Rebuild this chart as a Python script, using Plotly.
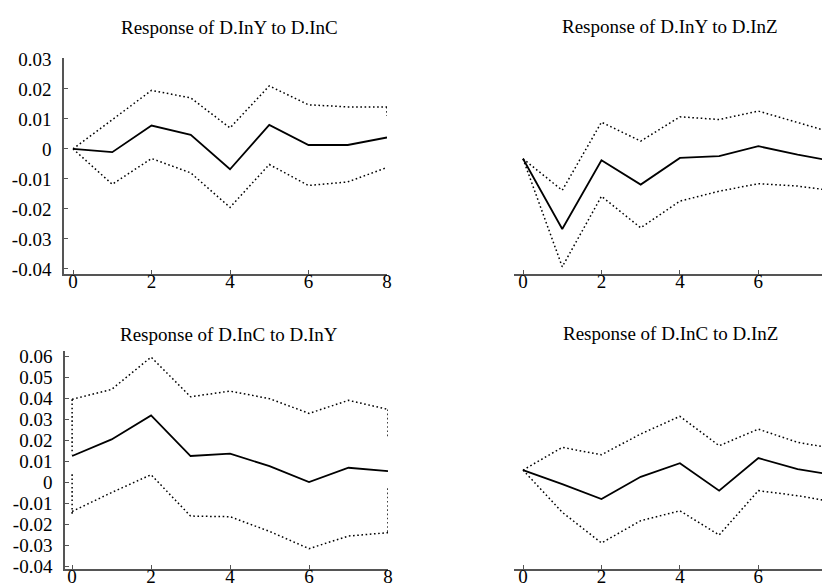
import plotly.graph_objects as go

W, H = 830, 585

steps = [0, 1, 2, 3, 4, 5, 6, 7, 8]

# Response of D.InY to D.InC
y_c_irf = [0.0, -0.0011, 0.0078, 0.0047, -0.0068, 0.0080, 0.0013, 0.0013, 0.0038]
y_c_hi = [0.0, 0.0097, 0.0195, 0.0170, 0.0070, 0.0210, 0.0147, 0.0140, 0.0140]
y_c_lo = [0.0, -0.0118, -0.0032, -0.0080, -0.0195, -0.0052, -0.0122, -0.0110, -0.0062]
y_c_edges = [(8, 0.0140, 0.0110)]

# Response of D.InY to D.InZ
y_z_irf = [-0.0033, -0.0267, -0.0038, -0.0119, -0.0030, -0.0024, 0.0009, -0.0019, -0.0043]
y_z_hi = [-0.0033, -0.0138, 0.0089, 0.0026, 0.0107, 0.0098, 0.0126, 0.0087, 0.0050]
y_z_lo = [-0.0033, -0.0393, -0.0158, -0.0263, -0.0174, -0.0141, -0.0116, -0.0124, -0.0141]
y_z_edges = [(8, 0.0050, -0.0030)]

# Response of D.InC to D.InY
c_y_irf = [0.0124, 0.0203, 0.0317, 0.0124, 0.0135, 0.0076, 0.0000, 0.0068, 0.0052]
c_y_hi = [0.0394, 0.0441, 0.0595, 0.0406, 0.0433, 0.0397, 0.0327, 0.0389, 0.0346]
c_y_lo = [-0.0140, -0.0050, 0.0035, -0.0162, -0.0165, -0.0235, -0.0317, -0.0257, -0.0241]
c_y_edges = [(0, 0.0394, 0.0132), (0, 0.0037, -0.0151), (8, 0.0346, 0.0211), (8, -0.0030, -0.0241)]

# Response of D.InC to D.InZ
c_z_irf = [0.0057, -0.0010, -0.0081, 0.0025, 0.0090, -0.0041, 0.0114, 0.0062, 0.0030]
c_z_hi = [0.0057, 0.0165, 0.0130, 0.0229, 0.0313, 0.0173, 0.0252, 0.0189, 0.0157]
c_z_lo = [0.0057, -0.0144, -0.0290, -0.0184, -0.0137, -0.0252, -0.0041, -0.0065, -0.0097]

titles = ["Response of D.InY to D.InC", "Response of D.InY to D.InZ",
          "Response of D.InC to D.InY", "Response of D.InC to D.InZ"]

top_ticks = [0.03, 0.02, 0.01, 0, -0.01, -0.02, -0.03, -0.04]
top_ticktext = ["0.03", "0.02", "0.01", "0", "-0.01", "-0.02", "-0.03", "-0.04"]
bot_ticks = [0.06, 0.05, 0.04, 0.03, 0.02, 0.01, 0, -0.01, -0.02, -0.03, -0.04]
bot_ticktext = ["0.06", "0.05", "0.04", "0.03", "0.02", "0.01", "0", "-0.01", "-0.02", "-0.03", "-0.04"]
x_ticks = [0, 2, 4, 6, 8]
x_ticktext = ["0", "2", "4", "6", "8"]

panels = [
    (y_c_irf, y_c_hi, y_c_lo, y_c_edges),
    (y_z_irf, y_z_hi, y_z_lo, y_z_edges),
    (c_y_irf, c_y_hi, c_y_lo, c_y_edges),
    (c_z_irf, c_z_hi, c_z_lo, []),
]

DOT = dict(color="black", width=1.5, dash="1.6px,2.6px")
SOLID = dict(color="black", width=1.8)

fig = go.Figure()
for i, (irf, hi, lo, edges) in enumerate(panels):
    xa = "x" if i == 0 else f"x{i+1}"
    ya = "y" if i == 0 else f"y{i+1}"
    for band in (hi, lo):
        fig.add_trace(go.Scatter(x=steps, y=band, mode="lines", line=DOT,
                                 xaxis=xa, yaxis=ya, showlegend=False, hoverinfo="skip"))
    for (ex, e0, e1) in edges:
        fig.add_trace(go.Scatter(x=[ex, ex], y=[e0, e1], mode="lines", line=DOT,
                                 xaxis=xa, yaxis=ya, showlegend=False, hoverinfo="skip"))
    fig.add_trace(go.Scatter(x=steps, y=irf, mode="lines", line=SOLID,
                             xaxis=xa, yaxis=ya, showlegend=False))

def px_x(p):
    return p / W

def px_y(p):
    return 1 - p / H

SERIF = "Liberation Serif"
TICKFONT = dict(family=SERIF, size=19, color="black")
TITLEFONT = dict(family=SERIF, size=19, color="black")
AX = "#555555"

xbase = dict(showgrid=False, zeroline=False, showline=True, linecolor=AX, linewidth=1.5,
             ticks="inside", ticklen=4, tickcolor=AX, tickwidth=1.2,
             tickvals=x_ticks, ticktext=x_ticktext, tickfont=TICKFONT, automargin=False,
             ticklabelstandoff=-11, ticklabeloverflow="allow")
ybase = dict(showgrid=False, zeroline=False, showline=True, linecolor=AX, linewidth=1.5,
             ticks="inside", ticklen=4, tickcolor=AX, tickwidth=1.2, tickfont=TICKFONT,
             automargin=False, ticklabelstandoff=7, ticklabeloverflow="allow")
yhidden = dict(showgrid=False, zeroline=False, showline=False, showticklabels=False,
               ticks="", automargin=False)

top_rng = [-0.0417, 0.0303]
bot_rng = [-0.0414, 0.0624]
top_dom = [px_y(266), px_y(50)]
bot_dom = [px_y(561), px_y(343)]

fig.update_layout(
    width=W, height=H,
    margin=dict(l=0, r=0, t=0, b=0),
    paper_bgcolor="white", plot_bgcolor="white",
    font=dict(family=SERIF, size=19, color="black"),
    xaxis=dict(xbase, domain=[px_x(56), px_x(379)], range=[-0.23, 8], anchor="y"),
    yaxis=dict(ybase, domain=top_dom, range=top_rng, anchor="x",
               tickvals=top_ticks, ticktext=top_ticktext),
    xaxis2=dict(xbase, domain=[px_x(506), 1.0], range=[-0.23, 8.03], anchor="y2"),
    yaxis2=dict(yhidden, domain=top_dom, range=top_rng, anchor="x2"),
    xaxis3=dict(xbase, domain=[px_x(57), px_x(380)], range=[-0.18, 8], anchor="y3"),
    yaxis3=dict(ybase, domain=bot_dom, range=bot_rng, anchor="x3",
                tickvals=bot_ticks, ticktext=bot_ticktext),
    xaxis4=dict(xbase, domain=[px_x(506), 1.0], range=[-0.23, 8.03], anchor="y4"),
    yaxis4=dict(yhidden, domain=bot_dom, range=bot_rng, anchor="x4"),
)

title_pos = [(221, 20), (662, 19), (221, 326), (662, 325)]
for t, (cx, cy) in zip(titles, title_pos):
    fig.add_annotation(text=t, x=px_x(cx), y=px_y(cy), xref="paper", yref="paper",
                       xanchor="center", yanchor="middle", showarrow=False, font=TITLEFONT)

fig.write_html("out.html")
